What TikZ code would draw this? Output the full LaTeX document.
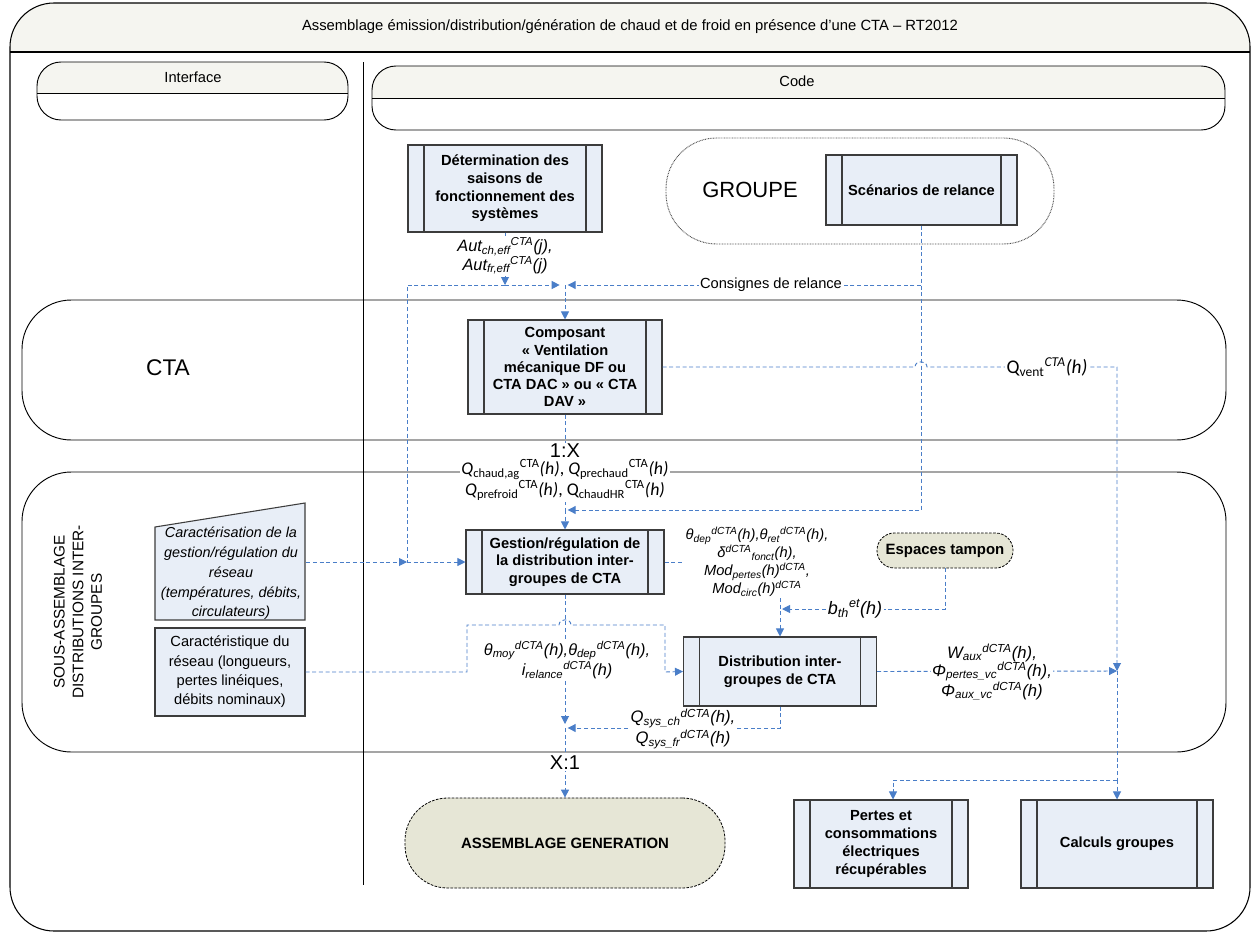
\documentclass[tikz,border=0pt]{standalone}
\usepackage{fontspec}
\setmainfont{Liberation Sans}
\newfontfamily\calfont{Carlito}
\usetikzlibrary{arrows.meta}
\definecolor{boxfill}{RGB}{232,238,247}
\definecolor{boxline}{RGB}{60,60,60}
\definecolor{connblue}{RGB}{74,126,200}
\definecolor{beige}{RGB}{230,230,214}
\definecolor{headfill}{RGB}{245,245,240}
\newcommand\sbp[2]{\textsubscript{#1}\textsuperscript{#2}}
\begin{document}
\begin{tikzpicture}[x=0.75pt,y=-0.75pt,
  proc/.style={draw=boxline, fill=boxfill, line width=0.8pt, align=center,
    font=\fontsize{11}{13.3}\selectfont\bfseries, inner sep=1pt,
    path picture={
      \draw[boxline, line width=0.8pt] ([xshift=12pt]path picture bounding box.north west) -- ([xshift=12pt]path picture bounding box.south west);
      \draw[boxline, line width=0.8pt] ([xshift=-12pt]path picture bounding box.north east) -- ([xshift=-12pt]path picture bounding box.south east);}},
  term/.style={draw=black, dash pattern=on 2pt off 1pt, fill=beige, line width=0.6pt,
    font=\fontsize{11.2}{13.5}\selectfont\bfseries},
  conn/.style={draw=connblue, line width=0.7pt, dash pattern=on 3pt off 2pt},
  arr/.style={-{Triangle[length=6pt,width=6pt]}},
  lbl/.style={fill=white, inner sep=1pt, align=center},
  flab/.style={font=\fontsize{11}{13.5}\selectfont\itshape},
  flabb/.style={font=\fontsize{12.5}{14}\selectfont\itshape},
  qlab/.style={font=\calfont\fontsize{13.4}{15}\selectfont},
  plain/.style={font=\fontsize{11}{14.5}\selectfont}
]
\useasboundingbox (0,0) rectangle (1252,935);
% outer frame
\begin{scope}
  \clip[rounded corners=33pt] (10,3) rectangle (1250,931);
  \fill[headfill] (10,3) rectangle (1250,52);
\end{scope}
\draw[line width=0.8pt, rounded corners=33pt] (10,3) rectangle (1250,931);
\draw[line width=0.8pt] (10,52) -- (1250,52);
\node[font=\fontsize{11.1}{12}\selectfont] (title) at (630,27) {Assemblage émission/distribution/génération de chaud et de froid en présence d’une CTA – RT2012};
% lane headers
\begin{scope}
  \clip[rounded corners=18pt] (37,62) rectangle (348,120);
  \fill[headfill] (37,62) rectangle (348,93);
\end{scope}
\draw[line width=0.7pt, rounded corners=18pt] (37,62) rectangle (348,120);
\draw[line width=0.7pt] (37,93) -- (348,93);
\node[plain] (iface) at (193,77) {Interface};
\begin{scope}
  \clip[rounded corners=18pt] (372,66) rectangle (1225,130);
  \fill[headfill] (372,66) rectangle (1225,98);
\end{scope}
\draw[line width=0.7pt, rounded corners=18pt] (372,66) rectangle (1225,130);
\draw[line width=0.7pt] (372,98) -- (1225,98);
\node[plain] (code) at (797,81) {Code};
\draw[line width=0.7pt] (363,62) -- (363,885);
% horizontal lanes
\draw[line width=0.7pt, rounded corners=37pt] (22,300) rectangle (1226,440);
\draw[line width=0.7pt, rounded corners=37pt] (22,472) rectangle (1226,752);
\node[font=\fontsize{17}{20}\selectfont] (ctalbl) at (168,368) {CTA};
\node[rotate=90, align=center, font=\fontsize{11.5}{14}\selectfont] (souslbl) at (78,612) {SOUS-ASSEMBLAGE\\DISTRIBUTIONS INTER-\\GROUPES};
% GROUPE
\node[draw=gray!60!black, dash pattern=on 0.6pt off 0.6pt, line width=0.7pt, rounded corners=38pt,
  minimum width=291pt, minimum height=79.5pt] (grp) at (860,191) {};
\node[font=\fontsize{16.5}{20}\selectfont] (grplbl) at (750,190) {GROUPE};
% process boxes
\node[proc, minimum width=145.5pt, minimum height=65.25pt] (det) at (505,188.5) {Détermination des\\saisons de\\fonctionnement des\\systèmes};
\node[proc, minimum width=143.25pt, minimum height=52.5pt] (scen) at (921.5,190) {Scénarios de relance};
\node[proc, minimum width=145.5pt, minimum height=70.5pt, font=\fontsize{11}{12.8}\selectfont\bfseries] (comp) at (565,367) {Composant\\« Ventilation\\mécanique DF ou\\CTA DAC » ou « CTA\\DAV »};
\node[proc, minimum width=148.5pt, minimum height=48pt] (gest) at (565,562) {Gestion/régulation de\\la distribution inter-\\groupes de CTA};
\node[proc, minimum width=144.75pt, minimum height=51.75pt] (dist) at (780,671.5) {Distribution inter-\\groupes de CTA};
\node[proc, minimum width=130.5pt, minimum height=66pt] (pertes) at (881,844) {Pertes et\\consommations\\électriques\\récupérables};
\node[proc, minimum width=144pt, minimum height=66pt] (calc) at (1117,844) {Calculs groupes};
\node[term, rounded corners=13pt, minimum width=102pt, minimum height=26.25pt] (esp) at (945,550.5) {Espaces tampon};
\node[term, rounded corners=32pt, minimum width=240pt, minimum height=67.5pt] (asm) at (565,843) {ASSEMBLAGE GENERATION};
% interface inputs
\draw[boxline, fill=boxfill, line width=0.8pt] (155,527) -- (305,503) -- (305,620) -- (155,620) -- cycle;
\node[align=center, font=\fontsize{10.8}{14.8}\selectfont\itshape, minimum width=112.5pt, minimum height=69.75pt, inner sep=0pt] (cara) at (231,573.5) {Caractérisation de la\\gestion/régulation du\\réseau\\(températures, débits,\\circulateurs)};
\node[draw=boxline, fill=boxfill, line width=0.8pt, align=center, font=\fontsize{11}{14.5}\selectfont, minimum width=112.5pt, minimum height=66pt, inner sep=1pt] (cara2) at (230,672) {Caractéristique du\\réseau (longueurs,\\pertes linéiques,\\débits nominaux)};
% junction coordinates
\coordinate (j1) at (505,285);
\coordinate (jc) at (565,285);
\coordinate (jl) at (407,562);
\coordinate (js) at (565,510);
\coordinate (jq) at (1117,671);
\coordinate (jb) at (1117,780);
\coordinate (jd) at (780,609);
\coordinate (jy) at (565,728);
\coordinate (gq) at (690,562);
\coordinate (gq2) at (780,598);
% connectors
\draw[conn,arr] (det.south) -- (j1);
\draw[conn,arr] (j1) -- ([xshift=-4pt]jc);
\draw[conn] (j1) -| (jl);
\draw[conn,arr] (cara.east |- jl) -- (jl);
\draw[conn,arr] (jl) -- (gest.west);
\draw[conn,arr] (scen.south) |- ([xshift=2pt]jc);
\draw[conn,arr] (jc) -- (comp.north);
\draw[conn,arr] (scen.south) |- ([xshift=2pt]js);
\draw[conn] (comp.south) -- (js);
\draw[conn,arr] (js) -- (gest.north);
\draw[conn,arr] (comp.east) -- (915,367) .. controls (915,360) and (927,360) .. (927,367) -- (1117,367) -- (jq);
\draw[conn,arr] (dist.east) -- (jq);
\draw[conn] (jq) -- (jb);
\draw[conn,arr] (jb) -- (calc.north);
\draw[conn,arr] (jb) -| ([xshift=9pt]pertes.north);
\draw[conn] (gest.east) -- (gq);
\draw[conn,arr] (gq2) -- (dist.north);
\draw[conn,arr] (esp.south) |- ([xshift=1.5pt]jd);
\draw[conn,arr] (gest.south) -- ([yshift=3pt]jy);
\draw[conn,arr] (jy) -- (asm.north);
\draw[conn,arr] (cara2.east) -- (467,672) -- (467,625) -- (559,625) .. controls (559,618) and (571,618) .. (571,625) -- (665,625) -- (665,672) -- (dist.west);
\draw[conn,arr] (dist.south) |- ([xshift=2pt]jy);
% labels
\node[lbl, font=\fontsize{12.3}{14}\selectfont\itshape] (autlbl) at (505,256) {Aut\sbp{ch,eff}{CTA}(j),\\Aut\sbp{fr,eff}{CTA}(j)};
\node[lbl, font=\fontsize{11}{13}\selectfont] (conslbl) at (771,285) {Consignes de relance};
\node[lbl, font=\calfont\fontsize{14.5}{16}\selectfont] (qvent) at (1047,367) {Q\sbp{vent}{\textit{CTA}}\textit{(h)}};
\node[lbl, font=\fontsize{15}{17}\selectfont] (onex) at (565,451) {1:X};
\node[lbl, qlab] (qch) at (565,480) {\textit{Q}\sbp{chaud,ag}{CTA}\textit{(h)}, \textit{Q}\sbp{prechaud}{CTA}\textit{(h)}\\\textit{Q}\sbp{prefroid}{CTA}\textit{(h)}, Q\sbp{chaudHR}{CTA}\textit{(h)}};
\node[lbl, flab] (thdep) at (757,562) {θ\sbp{dep}{dCTA}(h),θ\sbp{ret}{dCTA}(h),\\δ\textsuperscript{dCTA}\textsubscript{fonct}(h),\\Mod\textsubscript{pertes}(h)\textsuperscript{dCTA},\\Mod\textsubscript{circ}(h)\textsuperscript{dCTA}};
\node[lbl, font=\fontsize{13.5}{15}\selectfont\itshape] (bth) at (855,609) {b\sbp{th}{et}(h)};
\node[lbl, font=\fontsize{12.2}{14}\selectfont\itshape] (thmoy) at (567,660) {θ\sbp{moy}{dCTA}(h),θ\sbp{dep}{dCTA}(h),\\i\sbp{relance}{dCTA}(h)};
\node[lbl, flabb] (qsys) at (683,729) {Q\sbp{sys\_ch}{dCTA}(h),\\Q\sbp{sys\_fr}{dCTA}(h)};
\node[lbl, font=\fontsize{12.5}{13.5}\selectfont\itshape] (waux) at (992,672) {W\sbp{aux}{dCTA}(h),\\Φ\sbp{pertes\_vc}{dCTA}(h),\\Φ\sbp{aux\_vc}{dCTA}(h)};
\node[lbl, font=\fontsize{15}{17}\selectfont] (xone) at (565,763) {X:1};
\end{tikzpicture}
\end{document}
